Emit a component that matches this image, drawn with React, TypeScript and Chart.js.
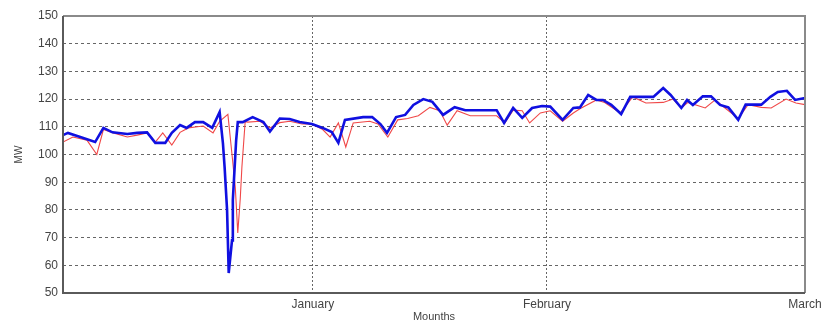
import React, { useEffect, useRef } from "react";
import { Chart, registerables } from "chart.js";

Chart.register(...registerables);

// Day offsets (from start of December) and MW values
const blueDays = [0.0, 0.6, 2.1, 3.9, 4.9, 6.0, 7.8, 9.0, 10.2, 11.2, 12.4, 13.2, 14.2, 15.0, 16.0, 17.0, 18.1, 19.0, 19.4, 19.6, 19.9, 20.1, 20.5, 20.6, 21.0, 21.2, 21.8, 23.0, 24.3, 25.1, 26.3, 27.5, 28.7, 30.2, 31.5, 32.6, 33.4, 34.2, 36.4, 37.5, 38.5, 39.3, 40.4, 41.5, 42.5, 43.7, 44.8, 46.1, 47.5, 48.8, 50.6, 52.6, 53.5, 54.6, 55.7, 56.9, 58.1, 59.1, 60.6, 61.9, 62.7, 63.7, 64.7, 65.5, 66.5, 67.7, 68.8, 70.6, 71.6, 72.8, 73.7, 75.0, 75.7, 76.4, 77.6, 78.6, 79.7, 80.7, 81.9, 82.8, 84.7, 85.8, 86.7, 87.8, 88.8, 90.0];
const blueMW = [107, 107.8, 106.3, 104.5, 109.6, 108, 107.4, 107.8, 108, 104.2, 104.2, 107.8, 110.6, 109.6, 111.7, 111.7, 109.6, 115.3, 104, 95.5, 80, 57.2, 69, 83.6, 105, 111.7, 111.7, 113.5, 111.7, 108.3, 113, 112.8, 111.7, 111, 109.6, 108.1, 104.2, 112.5, 113.5, 113.5, 111, 107.8, 113.5, 114.3, 117.9, 120, 119, 114.3, 117.1, 116, 116, 116, 111.4, 116.8, 113.2, 116.8, 117.5, 117.3, 112.5, 116.8, 117, 121.5, 119.7, 119.7, 117.9, 114.6, 120.8, 120.8, 120.8, 124, 121.5, 116.8, 119.7, 117.9, 121, 121, 117.9, 117, 112.5, 118, 118, 120.8, 122.6, 123, 119.7, 120.4];

const redDays = [0, 1.2, 2.9, 4.1, 4.9, 6.1, 7.8, 9.0, 10.2, 11.2, 12.1, 13.2, 14.2, 15.2, 16.3, 17.0, 18.2, 19.0, 20.0, 20.5, 20.9, 21.2, 21.5, 21.7, 22.1, 22.4, 23.9, 25.1, 26.3, 27.5, 29.0, 30.2, 31.5, 32.4, 33.4, 34.3, 35.2, 37.2, 38.2, 39.4, 40.6, 41.8, 43.1, 44.5, 45.7, 46.6, 47.8, 49.4, 50.9, 52.6, 53.6, 54.6, 55.7, 56.6, 57.9, 59.1, 60.6, 61.9, 62.7, 64.7, 65.7, 67.6, 69.1, 70.7, 72.8, 74.0, 75.0, 75.8, 77.9, 79.1, 80.3, 81.9, 83.1, 84.7, 85.9, 87.7, 88.9, 90.0];
const redMW = [104.5, 106.3, 105.2, 100, 109, 107.8, 106.3, 107, 107.8, 104.5, 107.8, 103.4, 108, 109.6, 110, 110.3, 107.8, 112, 114.5, 100, 88, 71.7, 84, 95.5, 112, 111.7, 112, 109.6, 111.5, 112, 111, 111, 109, 106.3, 111.4, 102.7, 111.4, 112, 111, 106.3, 112.5, 113, 114, 117, 115.8, 110.6, 115.8, 114, 114, 114, 111.4, 116, 115.8, 111.4, 115, 115.8, 112, 115, 116.5, 119.7, 118.8, 115, 120.8, 118.6, 118.8, 120, 116.8, 118.8, 116.8, 119.7, 116.8, 113, 118, 117, 116.8, 120, 118.6, 118];

const monthTickDays = [30.3, 58.7, 90];
const monthLabels = ["January", "February", "March"];

const frame = {
  id: "frame",
  afterDatasetsDraw(chart: any) {
    const { ctx, chartArea: a } = chart;
    ctx.save();
    ctx.lineWidth = 2;
    ctx.strokeStyle = "#8a8a8a";
    ctx.beginPath();
    ctx.moveTo(a.left, a.top);
    ctx.lineTo(a.right, a.top);
    ctx.lineTo(a.right, a.bottom);
    ctx.stroke();
    ctx.strokeStyle = "#5a5a5a";
    ctx.beginPath();
    ctx.moveTo(a.left, a.top);
    ctx.lineTo(a.left, a.bottom);
    ctx.lineTo(a.right, a.bottom);
    ctx.stroke();
    ctx.restore();
  },
};

export default function App() {
  const ref = useRef<HTMLCanvasElement>(null);
  useEffect(() => {
    const chart = new Chart(ref.current as HTMLCanvasElement, {
      type: "line",
      data: {
        datasets: [
          {
            label: "Actual",
            data: blueDays.map((d, i) => ({ x: d, y: blueMW[i] })),
            borderColor: "#1010e0",
            borderWidth: 2.6,
            pointRadius: 0,
            tension: 0,
            order: 0,
          },
          {
            label: "Forecast",
            data: redDays.map((d, i) => ({ x: d, y: redMW[i] })),
            borderColor: "#f04848",
            borderWidth: 1.1,
            pointRadius: 0,
            tension: 0,
            order: 1,
          },
        ],
      },
      options: {
        animation: false,
        responsive: false,
        maintainAspectRatio: false,
        layout: { padding: { top: 16, right: 23, left: 0, bottom: 0 } },
        plugins: { legend: { display: false }, tooltip: { enabled: false } },
        scales: {
          x: {
            type: "linear",
            min: 0,
            max: 90,
            afterBuildTicks: (s: any) => {
              s.ticks = monthTickDays.map((v) => ({ value: v }));
            },
            afterFit: (s: any) => {
              s.height = 34;
            },
            ticks: {
              autoSkip: false,
              maxRotation: 0,
              padding: 4,
              color: "#444",
              font: { family: "Liberation Sans, Arial", size: 12 },
              callback: (v: any) => {
                const i = monthTickDays.indexOf(Number(v));
                return i >= 0 ? monthLabels[i] : "";
              },
            },
            grid: { color: "#666", lineWidth: 1, drawTicks: false, tickBorderDash: [2, 2] },
            border: { display: false, dash: [2, 2] },
            title: {
              display: true,
              text: "Mounths",
              color: "#444",
              font: { family: "Liberation Sans, Arial", size: 11 },
              padding: { top: 0, bottom: 3 },
            },
          },
          y: {
            min: 50,
            max: 150,
            afterFit: (s: any) => {
              s.width = 63;
            },
            ticks: {
              stepSize: 10,
              padding: 5,
              color: "#444",
              font: { family: "Liberation Sans, Arial", size: 12 },
            },
            grid: { color: "#666", lineWidth: 1, drawTicks: false },
            border: { display: false, dash: [3, 3] },
            title: {
              display: true,
              text: "MW",
              color: "#444",
              font: { family: "Liberation Sans, Arial", size: 10 },
              padding: { top: 13, bottom: 0 },
            },
          },
        },
      },
      plugins: [frame],
    });
    return () => chart.destroy();
  }, []);
  return (
    <div style={{ position: "absolute", left: 0, top: 0, width: 828, height: 327, background: "#fff" }}>
      <canvas ref={ref} width={828} height={327} />
    </div>
  );
}
